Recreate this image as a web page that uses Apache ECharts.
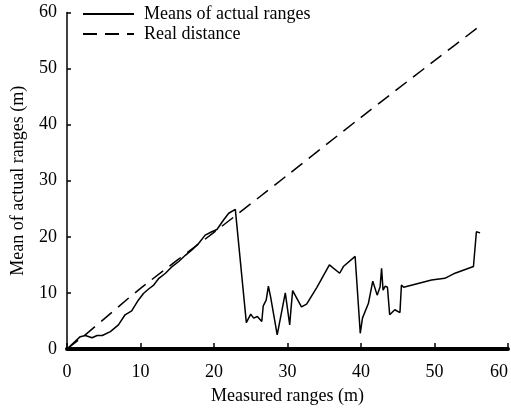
<!DOCTYPE html>
<html>
<head>
<meta charset="utf-8">
<script src="https://cdn.jsdelivr.net/npm/echarts@6/dist/echarts.min.js"></script>
<style>
  html, body { margin: 0; padding: 0; background: #fff; }
  #chart { width: 511px; height: 412px; }
</style>
</head>
<body>
<div id="chart"></div>
<script>
// means of actual ranges, [measured, mean]
const meansData = [
  [0, 0], [1.8, 2.2], [2.5, 2.4], [3.4, 2.0], [4.1, 2.4], [4.8, 2.4], [5.9, 3.1],
  [7.0, 4.3], [7.9, 6.1], [8.8, 6.8], [9.7, 8.7], [10.4, 9.9], [11.1, 10.7],
  [11.8, 11.4], [12.5, 12.6], [13.4, 13.5], [14.3, 14.7], [15.2, 15.6], [16.1, 16.7],
  [17.2, 17.9], [17.9, 18.8], [18.8, 20.3], [19.7, 20.9], [20.4, 21.3], [21.3, 23.0],
  [22.0, 24.2], [22.9, 24.9], [23.1, 24.8], [24.4, 4.7], [25.0, 6.2], [25.4, 5.5],
  [25.9, 5.8], [26.5, 4.9], [26.7, 7.7], [27.1, 8.7], [27.4, 11.2], [27.7, 9.3],
  [28.6, 2.5], [29.7, 10.0], [30.3, 4.3], [30.5, 7.5], [30.7, 10.4], [31.9, 7.5],
  [32.6, 8.0], [34.0, 11.0], [35.7, 15.0], [37.1, 13.5], [37.6, 14.7], [39.2, 16.5],
  [39.9, 2.8], [40.2, 5.5], [41.0, 8.1], [41.6, 12.1], [42.2, 9.6], [42.6, 11.1],
  [42.8, 14.4], [43.0, 10.5], [43.3, 11.2], [43.6, 11.0], [43.9, 6.1], [44.6, 7.0],
  [45.3, 6.5], [45.5, 11.4], [45.8, 11.0], [49.6, 12.3], [51.4, 12.6], [52.6, 13.4],
  [55.3, 14.7], [55.7, 20.9], [56.2, 20.7]
]
// real distance
const realData = [
  [0, 0], [3, 3.1], [10, 10.8], [20, 20.8], [30, 31.0], [40, 41.3], [50, 51.4], [56, 57.4]
]
const xTicks = [0, 10, 20, 30, 40, 50, 60]
const yTicks = [0, 10, 20, 30, 40, 50, 60]

const font = 'Liberation Serif'
const chart = echarts.init(document.getElementById('chart'))

chart.setOption({
  animation: false,
  textStyle: { fontFamily: font, color: '#000' },
  legend: {
    orient: 'vertical',
    left: 77,
    top: 0,
    itemWidth: 51,
    itemHeight: 14,
    itemGap: 2,
    itemStyle: { opacity: 0 },
    textStyle: { fontFamily: font, fontSize: 18, color: '#000', padding: [0, 0, 0, 5] },
    data: ['Means of actual ranges', 'Real distance']
  },
  grid: { left: 67, right: 3, top: 12.4, bottom: 63 },
  xAxis: {
    type: 'value',
    min: xTicks[0],
    max: xTicks[xTicks.length - 1],
    interval: 10,
    name: 'Measured ranges (m)',
    nameLocation: 'middle',
    nameGap: 38,
    nameTextStyle: { fontFamily: font, fontSize: 18, color: '#000' },
    axisLine: { lineStyle: { color: '#000', width: 4 } },
    axisTick: { inside: true, length: 6, lineStyle: { color: '#000', width: 1.5 } },
    axisLabel: { fontFamily: font, fontSize: 18, color: '#000', margin: 14, alignMaxLabel: 'right' },
    splitLine: { show: false }
  },
  yAxis: {
    type: 'value',
    min: yTicks[0],
    max: yTicks[yTicks.length - 1],
    interval: 10,
    name: 'Mean of actual ranges (m)',
    nameLocation: 'middle',
    nameGap: 40,
    nameTextStyle: { fontFamily: font, fontSize: 18, color: '#000' },
    axisLine: { show: true, lineStyle: { color: '#000', width: 1.5 } },
    axisTick: { show: true, inside: true, length: 4, lineStyle: { color: '#000', width: 1.5 } },
    axisLabel: { fontFamily: font, fontSize: 18, color: '#000', margin: 10 },
    splitLine: { show: false }
  },
  series: [
    {
      name: 'Means of actual ranges',
      type: 'line',
      data: meansData,
      symbol: 'none',
      lineStyle: { color: '#000', width: 1.5 },
      itemStyle: { color: '#000' }
    },
    {
      name: 'Real distance',
      type: 'line',
      data: realData,
      smooth: 0.3,
      symbol: 'none',
      lineStyle: { color: '#000', width: 1.5, type: [14, 8] },
      itemStyle: { color: '#000' }
    }
  ]
})
</script>
</body>
</html>
